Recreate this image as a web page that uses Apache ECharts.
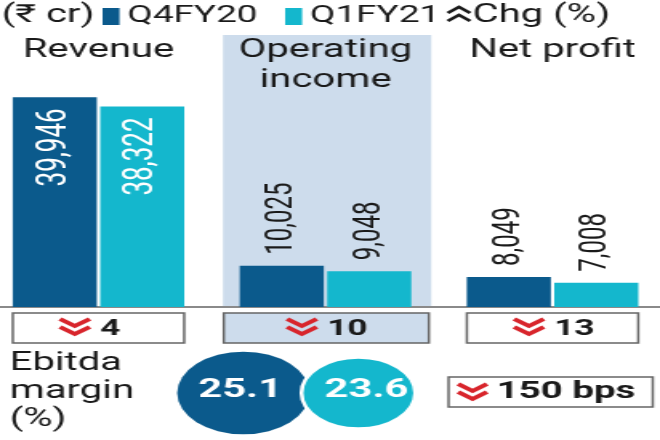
<!DOCTYPE html>
<html>
<head>
<meta charset="utf-8">
<script src="https://cdn.jsdelivr.net/npm/echarts@6/dist/echarts.min.js"></script>
<style>
  html, body { margin: 0; padding: 0; background: #fff; overflow: hidden; }
  /* the original graphic is stretched horizontally, so draw narrow and scale */
  #chart { width: 412px; height: 440px; transform: scaleX(1.60194); transform-origin: 0 0; }
</style>
</head>
<body>
<div id="chart"></div>
<script>
const categories = ['Revenue', 'Operating\nincome', 'Net profit']
const periods = ['Q4FY20', 'Q1FY21']
const q4fy20 = [39946, 10025, 8049]
const q1fy21 = [38322, 9048, 7008]
const changePct = [4, 10, 13]
const ebitdaMargin = [25.1, 23.6]
const marginChangeBps = 150

const DARK = '#0b5a8c'
const CYAN = '#14b7cd'
const SHADE = '#cddcec'
const RED = '#d8252c'
const FONT = 'Roboto, "DejaVu Sans", sans-serif'

const chart = echarts.init(document.getElementById('chart'))

const fmt = p => p.value.toLocaleString('en-US')

// revenue values fit inside the bar, the rest sit on top
const insideLabel = {
  show: true, position: 'insideTop', rotate: 90, align: 'right', verticalAlign: 'middle',
  distance: 11, color: '#fff', fontSize: 26, fontFamily: FONT, formatter: fmt
}
const topLabel = {
  show: true, position: 'top', rotate: 90, align: 'left', verticalAlign: 'middle',
  distance: 11, color: '#1a1a1a', fontSize: 24, fontFamily: FONT, formatter: fmt
}
const barItems = values => values.map((v, i) => ({ value: v, label: i === 0 ? insideLabel : topLabel }))

const legendCommon = {
  icon: 'rect', itemWidth: 10.6, itemHeight: 17, padding: 0, top: 5,
  selectedMode: false,
  textStyle: { fontSize: 23, color: '#1a1a1a', fontFamily: FONT }
}

chart.setOption({
  animation: false,
  legend: [
    { ...legendCommon, data: [periods[0]], left: 64 },
    { ...legendCommon, data: [periods[1]], left: 178 }
  ],
  grid: [
    { left: -9.4, right: -3.8, top: 97, bottom: 133, outerBoundsMode: 'none' },
    { left: 116, width: 143.6, top: 353, height: 80, outerBoundsMode: 'none' }
  ],
  xAxis: [
    {
      type: 'category', gridIndex: 0, data: categories,
      axisLine: { onZero: false, lineStyle: { color: '#8a8a8a', width: 2 } },
      axisTick: { show: false }, axisLabel: { show: false }
    },
    {
      type: 'category', gridIndex: 0, position: 'top', data: categories,
      axisLine: { show: false }, axisTick: { show: false },
      axisLabel: {
        interval: 0, margin: 61, verticalAlign: 'top', lineHeight: 30,
        fontSize: 25, color: '#1a1a1a', fontFamily: FONT
      }
    },
    { type: 'category', gridIndex: 1, data: periods, show: false }
  ],
  yAxis: [
    // the source bars are drawn from a raised floor, not from zero
    { type: 'value', gridIndex: 0, min: 2700, max: 40000, show: false },
    { type: 'category', gridIndex: 1, data: ['margin'], show: false }
  ],
  series: [
    {
      name: periods[0], type: 'bar', xAxisIndex: 0, yAxisIndex: 0,
      barWidth: 52.5, barGap: '4%', itemStyle: { color: DARK },
      data: barItems(q4fy20)
    },
    {
      name: periods[1], type: 'bar', xAxisIndex: 0, yAxisIndex: 0,
      barWidth: 52.5, barGap: '4%', itemStyle: { color: CYAN },
      data: barItems(q1fy21)
    },
    {
      name: 'Ebitda margin', type: 'scatter', xAxisIndex: 2, yAxisIndex: 1,
      symbolSize: val => (val[2] - 14.5) * 7.8,
      label: {
        show: true, position: 'inside', color: '#fff', fontSize: 26, fontWeight: 'bold',
        fontFamily: FONT, formatter: p => p.value[2].toFixed(1)
      },
      data: ebitdaMargin.map((v, i) => ({
        value: [i, 0, v],
        itemStyle: i === 0
          ? { color: DARK, opacity: 1 }
          : { color: CYAN, opacity: 1, borderColor: '#fff', borderWidth: 2.5 },
        label: { offset: i === 0 ? [-2, -3] : [5, -3] }
      }))
    }
  ]
})

const chevrons = (x, y, w, up, color, lw) => ({
  type: 'group', x, y,
  children: [0, 8].map(g => ({
    type: 'polyline', z: 10,
    shape: { points: up ? [[0, g + 6], [w / 2, g], [w, g + 6]] : [[0, g], [w / 2, g + 7], [w, g]] },
    style: { stroke: color, lineWidth: lw, fill: null }
  }))
})

const text = (str, x, y, size, weight, extra) => ({
  type: 'text', z: 10,
  style: Object.assign({
    text: str, x, y, fill: '#1a1a1a', verticalAlign: 'middle',
    font: `${weight} ${size}px ${FONT}`
  }, extra || {})
})

const cx = categories.map(c => chart.convertToPixel({ xAxisIndex: 0 }, c))
const graphics = [
  { type: 'rect', z: 0, shape: { x: cx[1] - 64, y: 35, width: 130, height: 272 }, style: { fill: SHADE } },
  text('(₹ cr)', 1, 16, 25, 'normal'),
  chevrons(279.5, 7, 14, true, '#1a1a1a', 2.5),
  text('Chg (%)', 295, 16, 25, 'normal'),
  text('Ebitda\nmargin\n(%)', 6, 392, 25, 'normal', { lineHeight: 28 })
]
changePct.forEach((v, i) => {
  const w = i === 1 ? 128 : 107
  graphics.push({
    type: 'rect', z: 5,
    shape: { x: cx[i] - w / 2 + (i === 1 ? 0.5 : 0), y: 313, width: w, height: 30 },
    style: { fill: i === 1 ? SHADE : '#fff', stroke: '#666', lineWidth: 1.5 }
  })
  graphics.push(chevrons(cx[i] - 24, 319, 18.5, false, RED, 3.5))
  graphics.push(text(String(v), cx[i] + 1, 329, 22, 'bold'))
})
graphics.push({
  type: 'rect', z: 5, shape: { x: 280, y: 377, width: 127.5, height: 30 },
  style: { fill: '#fff', stroke: '#666', lineWidth: 1.5 }
})
graphics.push(chevrons(286, 384, 18, false, RED, 3.5))
graphics.push(text(marginChangeBps + ' bps', 310, 392, 24, 'bold'))

chart.setOption({ graphic: graphics })
</script>
</body>
</html>
